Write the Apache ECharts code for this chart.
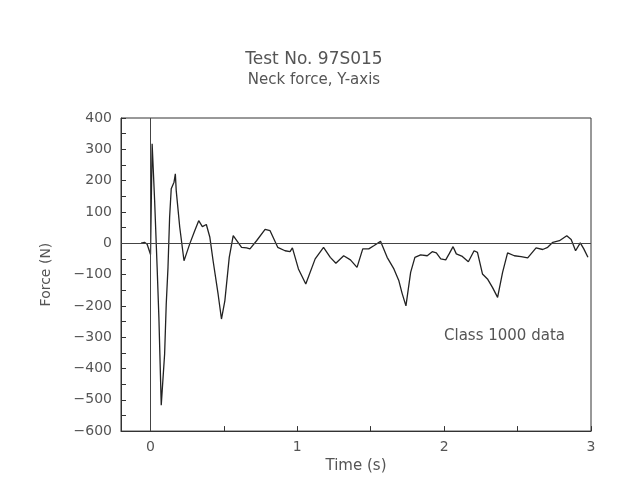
<!DOCTYPE html>
<html>
<head>
<meta charset="utf-8">
<script src="https://cdn.jsdelivr.net/npm/echarts@6/dist/echarts.min.js"></script>
<style>html,body{margin:0;padding:0;background:#fff;}#c{width:628px;height:479px;}</style>
</head>
<body>
<div id="c"></div>
<script>
var titleText = 'Test No. 97S015';
var subtitleText = 'Neck force, Y-axis';
var xName = 'Time (s)';
var yName = 'Force (N)';
var noteText = 'Class 1000 data';
var xLabelValues = [0, 1, 2, 3];
var xTickValues = [0, 0.5, 1, 1.5, 2, 2.5, 3];
var yTickValues = [-600,-550,-500,-450,-400,-350,-300,-250,-200,-150,-100,-50,0,50,100,150,200,250,300,350,400];
var timeS = [-0.063,-0.040,-0.022,0.001,0.012,0.029,0.046,0.058,0.074,0.097,0.108,0.120,0.131,0.142,0.161,0.170,0.176,0.200,0.229,0.245,0.268,0.302,0.329,0.354,0.381,0.405,0.427,0.461,0.484,0.507,0.537,0.564,
  0.576,0.621,0.655,0.678,0.723,0.781,0.815,0.867,0.917,0.951,0.967,1.008,1.058,1.122,1.179,1.225,1.263,1.316,1.362,1.407,1.446,1.487,1.521,1.567,1.612,1.658,1.692,1.714,1.740,1.772,1.801,1.840,1.885,1.919,1.947,1.977,2.011,2.034,2.061,2.083,2.124,2.165,2.204,2.227,2.261,2.295,2.329,2.364,2.398,2.432,2.478,2.524,2.569,2.626,2.671,2.705,2.740,2.785,2.835,2.865,2.895,2.927,2.951,2.979];
var forceN = [0,3,-3,-36,318,136,-77,-237,-517,-354,-194,-77,83,174,195,222,168,51,-56,-34,-2,40,72,53,60,19,-56,-162,-242,-184,-45,24,
  26,-13,-15,-18,8,44,40,-13,-24,-27,-15,-82,-130,-50,-13,-45,-64,-40,-53,-77,-18,-18,-8,6,-45,-82,-120,-160,-200,-93,-45,-37,-40,-27,-31,-50,-53,-34,-11,-34,-42,-59,-24,-29,-98,-114,-141,-173,-93,-31,-40,-43,-47,-15,-20,-13,3,8,24,12,-24,1,-18,-45];

var fontFam = 'DejaVu Sans';
var txt = '#555';
var pairs = timeS.map(function(t, i){ return [t, forceN[i]]; });
var chart = echarts.init(document.getElementById('c'));
chart.setOption({
  animation: false,
  backgroundColor: '#fff',
  title: {
    text: titleText, subtext: subtitleText, left: 'center', top: 46, itemGap: 5,
    textStyle: {fontFamily: fontFam, fontSize: 17, fontWeight: 'normal', color: txt},
    subtextStyle: {fontFamily: fontFam, fontSize: 15, color: txt}
  },
  grid: {left: 121, right: 37, top: 118, bottom: 47, show: true, borderColor: '#333', borderWidth: 1, backgroundColor: 'transparent'},
  graphic: [{type: 'text', left: 444, top: 329, style: {text: noteText, font: '15px "DejaVu Sans"', fill: txt}}],
  xAxis: {
    type: 'value', min: -0.2, max: 3,
    name: xName, nameLocation: 'middle', nameGap: 25,
    nameTextStyle: {fontFamily: fontFam, fontSize: 15, color: txt},
    axisLine: {onZero: false, lineStyle: {color: '#333'}},
    axisTick: {inside: true, length: 5, customValues: xTickValues, lineStyle: {color: '#333'}},
    axisLabel: {customValues: xLabelValues, fontFamily: fontFam, fontSize: 14, color: txt, margin: 9},
    splitLine: {show: false}
  },
  yAxis: {
    type: 'value', min: -600, max: 400, interval: 100,
    name: yName, nameLocation: 'middle', nameGap: 68, nameRotate: 90,
    nameTextStyle: {fontFamily: fontFam, fontSize: 14, color: txt},
    axisLine: {show: true, onZero: false, lineStyle: {color: '#333'}},
    axisTick: {inside: true, length: 5, customValues: yTickValues, lineStyle: {color: '#333'}},
    axisLabel: {fontFamily: fontFam, fontSize: 14, color: txt, margin: 9,
      formatter: function(v){ return String(v).replace('-', '\u2212'); }},
    splitLine: {show: false}
  },
  series: [{
    type: 'line', data: pairs, showSymbol: false, symbol: 'none',
    lineStyle: {color: '#222', width: 1.3},
    markLine: {
      silent: true, symbol: 'none', label: {show: false},
      lineStyle: {color: '#444', width: 1, type: 'solid'},
      data: [{yAxis: 0}, {xAxis: 0}]
    }
  }]
});
</script>
</body>
</html>
